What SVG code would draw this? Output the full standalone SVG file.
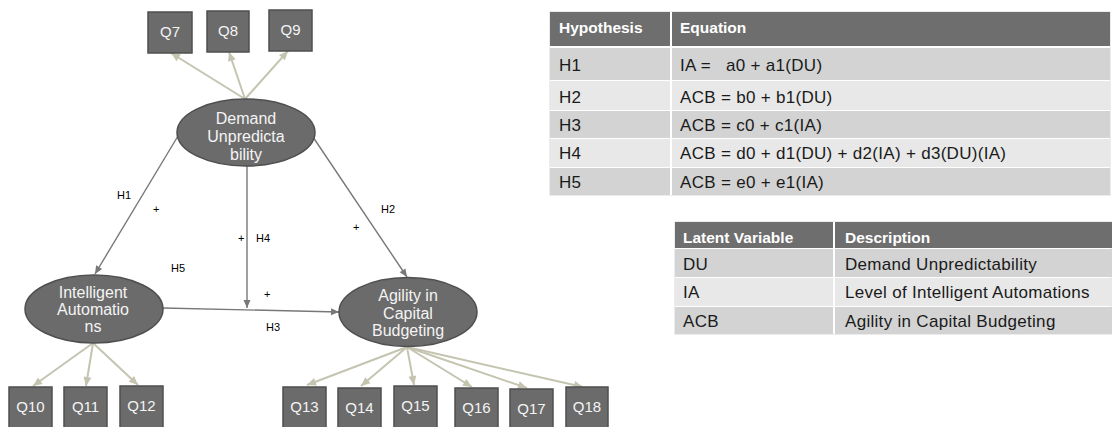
<svg xmlns="http://www.w3.org/2000/svg" width="1112" height="427" viewBox="0 0 1112 427">
<style>
.box{fill:#6b6b6b;stroke:#4f4f4f;stroke-width:1.5}
.ell{fill:#6b6b6b;stroke:#4f4f4f;stroke-width:1.5}
.bt{font-family:"Liberation Sans",Arial,sans-serif;font-size:15px;fill:#f4f4f4;text-anchor:middle}
.nt{font-family:"Liberation Sans",Arial,sans-serif;font-size:16px;fill:#f4f4f4;text-anchor:middle}
.lbl{font-family:"Liberation Sans",Arial,sans-serif;font-size:11px;fill:#000}
.sl{stroke:#787878;stroke-width:1.4;fill:none}
.ml{stroke:#c4c4b0;stroke-width:2;fill:none}
.th{font-family:"Liberation Sans",Arial,sans-serif;font-size:15.5px;font-weight:bold;fill:#fff}
.td{font-family:"Liberation Sans",Arial,sans-serif;font-size:17px;letter-spacing:0.3px;fill:#1a1a1a}
.hd{fill:#6e6e6e}
.rd{fill:#d3d3d3}
.rl{fill:#e8e8e8}
</style>
<defs>
<marker id="as" markerUnits="userSpaceOnUse" markerWidth="10" markerHeight="10" refX="9" refY="5" orient="auto">
<path d="M1,1.5 L9,5 L1,8.5 Z" fill="#787878"/>
</marker>
<marker id="am" markerUnits="userSpaceOnUse" markerWidth="12" markerHeight="12" refX="10" refY="6" orient="auto">
<path d="M1,2 L10,6 L1,10 Z" fill="#c4c4b0"/>
</marker>
</defs>
<rect width="1112" height="427" fill="#ffffff"/>

<g id="connectors">
<line class="ml" x1="245" y1="99" x2="171" y2="53" marker-end="url(#am)"/>
<line class="ml" x1="245" y1="99" x2="229" y2="52" marker-end="url(#am)"/>
<line class="ml" x1="245" y1="99" x2="288" y2="51" marker-end="url(#am)"/>
<line class="ml" x1="93" y1="343" x2="33" y2="386" marker-end="url(#am)"/>
<line class="ml" x1="93" y1="343" x2="86" y2="386" marker-end="url(#am)"/>
<line class="ml" x1="93" y1="343" x2="138" y2="385" marker-end="url(#am)"/>
<line class="ml" x1="407" y1="347" x2="307" y2="385" marker-end="url(#am)"/>
<line class="ml" x1="407" y1="347" x2="361" y2="386" marker-end="url(#am)"/>
<line class="ml" x1="407" y1="347" x2="414" y2="385" marker-end="url(#am)"/>
<line class="ml" x1="407" y1="347" x2="472" y2="387" marker-end="url(#am)"/>
<line class="ml" x1="407" y1="347" x2="527" y2="388" marker-end="url(#am)"/>
<line class="ml" x1="407" y1="347" x2="583" y2="387" marker-end="url(#am)"/>
<line class="sl" x1="178" y1="136" x2="95" y2="274" marker-end="url(#as)"/>
<line class="sl" x1="313" y1="137" x2="407" y2="277" marker-end="url(#as)"/>
<line class="sl" x1="247" y1="166" x2="247" y2="308" marker-end="url(#as)"/>
<line class="sl" x1="163" y1="308" x2="339" y2="312" marker-end="url(#as)"/>
<text class="lbl" x="117" y="199">H1</text>
<text class="lbl" x="153" y="213">+</text>
<text class="lbl" x="238" y="242">+</text>
<text class="lbl" x="256" y="242">H4</text>
<text class="lbl" x="381" y="213">H2</text>
<text class="lbl" x="353" y="231">+</text>
<text class="lbl" x="171" y="272">H5</text>
<text class="lbl" x="264" y="298">+</text>
<text class="lbl" x="266" y="331">H3</text>
</g>

<g id="node-DU">
<ellipse class="ell" cx="246" cy="132.5" rx="69" ry="33.5"/>
<text class="nt" x="246" y="124">Demand</text>
<text class="nt" x="246" y="142">Unpredicta</text>
<text class="nt" x="246" y="160">bility</text>
</g>
<g id="node-IA">
<ellipse class="ell" cx="94" cy="309" rx="69" ry="34"/>
<text class="nt" x="93" y="298">Intelligent</text>
<text class="nt" x="93" y="315">Automatio</text>
<text class="nt" x="93" y="332">ns</text>
</g>
<g id="node-ACB">
<ellipse class="ell" cx="408" cy="312" rx="69" ry="34.5"/>
<text class="nt" x="408" y="301">Agility in</text>
<text class="nt" x="408" y="318.5">Capital</text>
<text class="nt" x="408" y="336">Budgeting</text>
</g>

<g id="node-Q7"><rect class="box" x="148" y="12" width="44" height="41"/><text class="bt" x="170" y="37">Q7</text></g>
<g id="node-Q8"><rect class="box" x="207" y="11" width="42" height="41"/><text class="bt" x="228" y="36">Q8</text></g>
<g id="node-Q9"><rect class="box" x="269" y="10" width="43" height="41"/><text class="bt" x="290.5" y="35">Q9</text></g>
<g id="node-Q10"><rect class="box" x="9" y="387" width="43" height="42"/><text class="bt" x="30.5" y="412">Q10</text></g>
<g id="node-Q11"><rect class="box" x="64" y="387" width="43" height="42"/><text class="bt" x="85.5" y="412">Q11</text></g>
<g id="node-Q12"><rect class="box" x="120" y="386" width="43" height="43"/><text class="bt" x="141.5" y="411">Q12</text></g>
<g id="node-Q13"><rect class="box" x="283" y="387" width="43" height="42"/><text class="bt" x="304.5" y="412">Q13</text></g>
<g id="node-Q14"><rect class="box" x="338" y="388" width="43" height="41"/><text class="bt" x="359.5" y="413">Q14</text></g>
<g id="node-Q15"><rect class="box" x="394" y="386" width="43" height="43"/><text class="bt" x="415.5" y="411">Q15</text></g>
<g id="node-Q16"><rect class="box" x="455" y="388" width="43" height="41"/><text class="bt" x="476.5" y="413">Q16</text></g>
<g id="node-Q17"><rect class="box" x="510" y="389" width="43" height="40"/><text class="bt" x="531.5" y="414">Q17</text></g>
<g id="node-Q18"><rect class="box" x="566" y="387" width="42" height="42"/><text class="bt" x="587" y="412">Q18</text></g>

<g id="table-hypotheses">
<rect x="549.5" y="11.5" width="561" height="184" fill="none" stroke="#ececec" stroke-width="1"/>
<rect class="hd" x="550" y="12" width="560" height="34"/>
<rect class="rd" x="550" y="48" width="560" height="32"/>
<rect class="rl" x="550" y="81" width="560" height="29"/>
<rect class="rd" x="550" y="111" width="560" height="27"/>
<rect class="rl" x="550" y="139" width="560" height="28"/>
<rect class="rd" x="550" y="168" width="560" height="27"/>
<rect x="670" y="12" width="2" height="183" fill="#ffffff"/>
<text class="th" x="559" y="33">Hypothesis</text>
<text class="th" x="680" y="33">Equation</text>
<text class="td" x="559" y="71">H1</text>
<text class="td" x="680" y="71" xml:space="preserve">IA =   a0 + a1(DU)</text>
<text class="td" x="559" y="103">H2</text>
<text class="td" x="680" y="103">ACB = b0 + b1(DU)</text>
<text class="td" x="559" y="131">H3</text>
<text class="td" x="680" y="131">ACB = c0 + c1(IA)</text>
<text class="td" x="559" y="159">H4</text>
<text class="td" x="680" y="159">ACB = d0 + d1(DU) + d2(IA) + d3(DU)(IA)</text>
<text class="td" x="559" y="188">H5</text>
<text class="td" x="680" y="188">ACB = e0 + e1(IA)</text>
</g>

<g id="table-variables">
<rect x="674.5" y="221.5" width="437" height="113" fill="none" stroke="#ececec" stroke-width="1"/>
<rect class="hd" x="675" y="222" width="437" height="26"/>
<rect class="rd" x="675" y="249" width="437" height="28"/>
<rect class="rl" x="675" y="278" width="437" height="28"/>
<rect class="rd" x="675" y="307" width="437" height="27"/>
<rect x="833" y="222" width="2" height="112" fill="#ffffff"/>
<text class="th" x="683" y="243">Latent Variable</text>
<text class="th" x="845" y="243">Description</text>
<text class="td" x="683" y="270">DU</text>
<text class="td" x="845" y="270">Demand Unpredictability</text>
<text class="td" x="683" y="298">IA</text>
<text class="td" x="845" y="298">Level of Intelligent Automations</text>
<text class="td" x="683" y="327">ACB</text>
<text class="td" x="845" y="327">Agility in Capital Budgeting</text>
</g>
</svg>
